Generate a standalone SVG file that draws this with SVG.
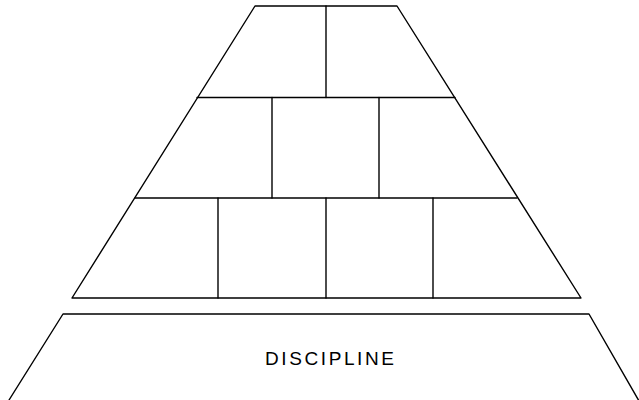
<svg xmlns="http://www.w3.org/2000/svg" width="639" height="400" viewBox="0 0 639 400">
<style>
.l{stroke:#000;stroke-width:1.4;fill:none;stroke-linecap:round;stroke-linejoin:round}
.t{font-family:"Liberation Sans",Arial,sans-serif;font-size:19px;letter-spacing:2.6px;fill:#000}
</style>
<rect width="639" height="400" fill="#fff"/>
<g id="pyramid">
<polyline class="l" points="72,298 255,6 397,6 581,298 72,298"/>
<line class="l" x1="197" y1="97.5" x2="455" y2="97.5"/>
<line class="l" x1="135" y1="198" x2="517" y2="198"/>
<line class="l" x1="326" y1="6" x2="326" y2="97.5"/>
<line class="l" x1="272" y1="97.5" x2="272" y2="198"/>
<line class="l" x1="379" y1="97.5" x2="379" y2="198"/>
<line class="l" x1="218" y1="198" x2="218" y2="298"/>
<line class="l" x1="326" y1="198" x2="326" y2="298"/>
<line class="l" x1="433" y1="198" x2="433" y2="298"/>
</g>
<g id="base">
<polyline class="l" points="9,400 63,314 589,314 639,401"/>
<text class="t" x="265" y="365">DISCIPLINE</text>
</g>
</svg>
